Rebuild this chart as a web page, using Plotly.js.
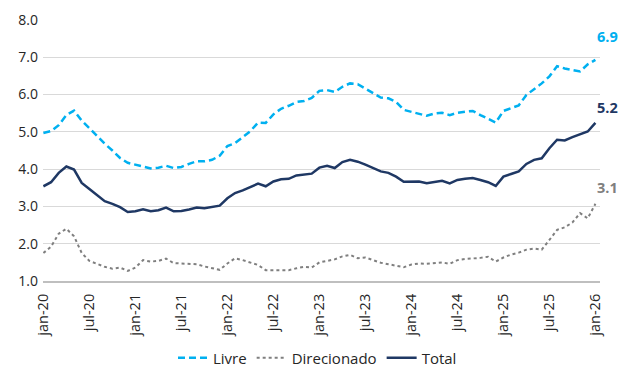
<!DOCTYPE html>
<html>
<head>
<meta charset="utf-8">
<script src="https://cdn.plot.ly/plotly-3.0.1.min.js"></script>
<style>html,body{margin:0;padding:0;background:#fff;}#chart{width:635px;height:374px;}</style>
</head>
<body>
<div id="chart"></div>
<script>
// Monthly series jan-20 .. jan-26
const monthNames = ['jan','fev','mar','abr','mai','jun','jul','ago','set','out','nov','dez'];
const startYear = 2020;
const nMonths = 73;
const categories = [];
for (let i = 0; i < nMonths; i++) {
  const y = startYear + Math.floor(i / 12);
  categories.push(monthNames[i % 12] + '-' + String(y).slice(2));
}
const tickLabels = ['jan-20','jul-20','jan-21','jul-21','jan-22','jul-22','jan-23','jul-23','jan-24','jul-24','jan-25','jul-25','jan-26'];

const livre = [
  4.97,5.02,5.18,5.45,5.57,5.30,5.10,4.88,4.68,4.50,4.30,4.17,
  4.12,4.07,4.02,4.04,4.09,4.03,4.06,4.14,4.21,4.21,4.25,4.36,
  4.62,4.70,4.85,5.02,5.25,5.24,5.47,5.62,5.70,5.80,5.83,5.91,
  6.10,6.12,6.07,6.21,6.30,6.28,6.16,6.04,5.92,5.90,5.80,5.59,
  5.54,5.49,5.43,5.49,5.51,5.45,5.51,5.54,5.56,5.45,5.34,5.25,
  5.56,5.64,5.71,5.99,6.14,6.30,6.49,6.76,6.70,6.66,6.62,6.81,
  6.93
];
const direcionado = [
  1.75,1.92,2.27,2.40,2.20,1.75,1.54,1.45,1.38,1.33,1.36,1.27,
  1.36,1.56,1.52,1.54,1.60,1.48,1.47,1.44,1.45,1.39,1.35,1.30,
  1.47,1.61,1.56,1.49,1.43,1.29,1.29,1.28,1.29,1.34,1.38,1.36,
  1.50,1.54,1.58,1.66,1.70,1.61,1.63,1.56,1.49,1.45,1.40,1.37,
  1.44,1.47,1.46,1.47,1.50,1.46,1.56,1.59,1.60,1.62,1.65,1.52,
  1.63,1.71,1.76,1.84,1.87,1.84,2.10,2.37,2.44,2.57,2.82,2.68,
  3.07
];
const total = [
  3.54,3.65,3.90,4.07,3.99,3.63,3.47,3.30,3.14,3.07,2.98,2.85,
  2.87,2.92,2.87,2.90,2.97,2.87,2.88,2.92,2.97,2.95,2.98,3.02,
  3.22,3.36,3.43,3.51,3.61,3.54,3.67,3.73,3.74,3.83,3.85,3.88,
  4.04,4.09,4.03,4.19,4.25,4.20,4.12,4.03,3.94,3.90,3.80,3.66,
  3.67,3.67,3.62,3.65,3.69,3.62,3.71,3.74,3.76,3.71,3.65,3.55,
  3.80,3.87,3.94,4.14,4.25,4.29,4.56,4.79,4.77,4.86,4.94,5.01,
  5.24
];

const cLivre = '#00B0F0', cDir = '#7F7F7F', cTotal = '#1F3864';
const font = 'Open Sans, Liberation Sans, Arial, sans-serif';
const lastCat = categories[categories.length - 1];

const traces = [
  {x: categories, y: livre, name: 'Livre', type: 'scatter', mode: 'lines',
   line: {color: cLivre, width: 2.5, dash: '7px,4px'}},
  {x: categories, y: direcionado, name: 'Direcionado', type: 'scatter', mode: 'lines',
   line: {color: cDir, width: 2, dash: 'dot'}},
  {x: categories, y: total, name: 'Total', type: 'scatter', mode: 'lines',
   line: {color: cTotal, width: 2.5}}
];

function endLabel(vals, color, yshift) {
  const v = vals[vals.length - 1];
  return {x: lastCat, y: v, xref: 'x', yref: 'y', text: '<b>' + v.toFixed(1) + '</b>',
    showarrow: false, xanchor: 'center', yanchor: 'middle', xshift: 12, yshift: yshift,
    font: {family: font, size: 14.5, color: color}};
}

const layout = {
  width: 635, height: 374,
  margin: {l: 43, r: 35, t: 20, b: 93},
  paper_bgcolor: '#fff', plot_bgcolor: '#fff',
  font: {family: font, size: 13, color: '#262626'},
  showlegend: true,
  legend: {orientation: 'h', x: 0.5, xanchor: 'center', xref: 'container',
    y: 0.043, yanchor: 'middle', yref: 'container',
    font: {family: font, size: 15, color: '#262626'}, itemwidth: 30, tracegroupgap: 0},
  xaxis: {type: 'category', range: [-0.05, 72.6], tickmode: 'array',
    tickvals: tickLabels, ticktext: tickLabels, tickangle: -90, automargin: false,
    showgrid: false, zeroline: false, showline: true, linecolor: '#BFBFBF', linewidth: 2,
    ticks: '', ticklabelstandoff: 5, tickfont: {family: font, size: 14.5, color: '#262626'}},
  yaxis: {range: [1, 8], dtick: 1, tickformat: '.1f', showgrid: true, gridcolor: '#D9D9D9',
    gridwidth: 1, zeroline: false, showline: false, ticks: '', automargin: false,
    ticklabelstandoff: 4,
    tickfont: {family: font, size: 14, color: '#262626'}},
  annotations: [
    endLabel(livre, cLivre, 23),
    endLabel(total, cTotal, 15),
    endLabel(direcionado, cDir, 16)
  ]
};

Plotly.newPlot('chart', traces, layout, {displayModeBar: false, staticPlot: true});
</script>
</body>
</html>
